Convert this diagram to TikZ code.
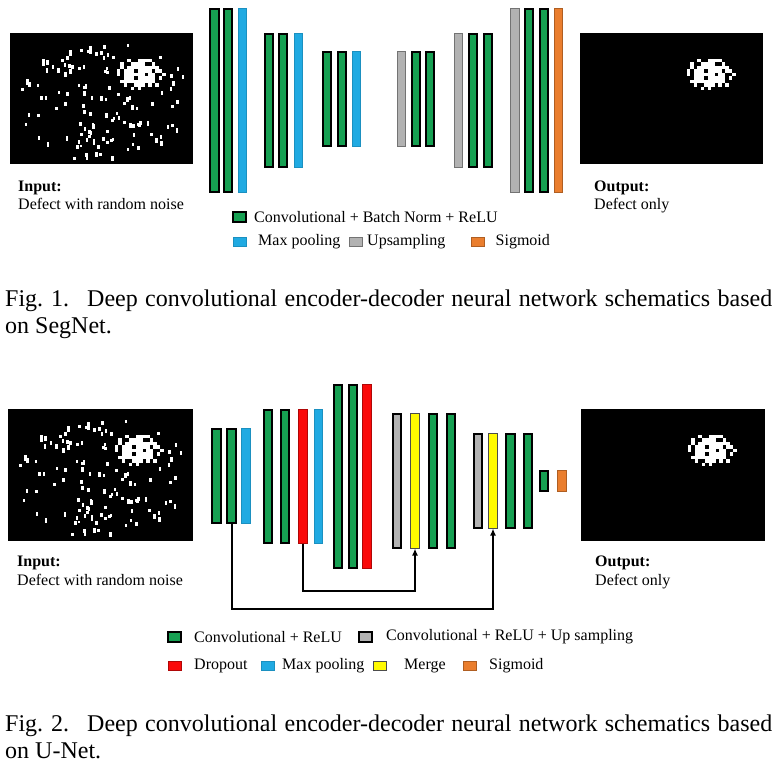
\documentclass[tikz,border=0pt]{standalone}
\usepackage{fontspec}
\setmainfont{Liberation Serif}
\usetikzlibrary{arrows.meta,positioning}

\definecolor{convgreen}{RGB}{22,160,82}
\definecolor{poolblue}{RGB}{32,170,226}
\definecolor{upgray}{RGB}{178,178,178}
\definecolor{sigorange}{RGB}{234,126,46}
\definecolor{dropred}{RGB}{250,10,10}
\definecolor{mergeyellow}{RGB}{255,250,0}

% random white specks of the noisy input
\newcommand{\noisedots}{%
  \pgfmathsetseed{2024}%
  \foreach \k in {1,...,165}{%
    \pgfmathsetmacro{\nx}{8+172*rnd}%
    \pgfmathsetmacro{\ny}{6+118*rnd}%
    \pgfmathsetmacro{\nh}{2.8+2.6*rnd}%
    \pgfmathtruncatemacro{\inside}{(((\nx-94)/88)^2+((\ny-68)/60)^2<1)*(((\nx-129)/30)^2+((\ny-41)/22)^2>1)}%
    \ifnum\inside=1 \fill[white] (\nx,\ny) rectangle ++(2.7,\nh);\fi
  }%
}
% the defect itself
\newcommand{\defectblob}{%
  \pgfmathsetseed{77}%
  \foreach \bx in {0,...,14}{%
    \foreach \by in {0,...,10}{%
      \pgfmathsetmacro{\cx}{103+3.5*\bx}%
      \pgfmathsetmacro{\cy}{22+3.5*\by}%
      \pgfmathsetmacro{\ra}{rnd}%
      \pgfmathsetmacro{\rb}{rnd}%
      \pgfmathtruncatemacro{\keep}{(((\cx+1.75-129)/25)^2+((\cy+1.75-41)/17)^2<0.4+0.65*\ra)*(\rb>0.13)}%
      \ifnum\keep=1 \fill[white] (\cx,\cy) rectangle ++(3.6,3.6);\fi
    }}%
}

\tikzset{
  layer/.style={inner sep=0pt,outer sep=0pt,minimum width=8.5pt},
  conv/.style={layer,fill=convgreen,draw=black,line width=2.1pt},
  pool/.style={layer,fill=poolblue,draw=poolblue!85!black,line width=0.6pt},
  up/.style={layer,fill=upgray,draw=black!55,line width=0.8pt},
  upb/.style={layer,fill=upgray,draw=black,line width=1.8pt},
  sig/.style={layer,fill=sigorange,draw=sigorange!75!black,line width=0.6pt},
  drop/.style={layer,fill=dropred,draw=dropred!70!black,line width=0.6pt},
  merge/.style={layer,fill=mergeyellow,draw=black!70,line width=0.9pt},
  img/.style={fill=black,inner sep=0pt,outer sep=0pt},
  lbl/.style={inner sep=0pt,font=\fontsize{16}{19}\selectfont},
  capt/.style={inner sep=0pt,font=\fontsize{24}{28}\selectfont},
  skip/.style={line width=2pt,-{Latex[length=7pt,width=6pt]}},
}

\begin{document}
\begin{tikzpicture}[x=1pt,y=-1pt]
    \useasboundingbox[fill=white] (0,0) rectangle (781,772);

    %% Fig. 1: SegNet
    \node[img,minimum width=183pt,minimum height=131pt] (inA) at (101.5,98.5) {};
    \node[img,minimum width=183pt,minimum height=131pt] (outA) at (671.5,98.5) {};
    \begin{scope}[shift={(inA.north west)}]
        \noisedots
        \defectblob
    \end{scope}
    \begin{scope}[shift={(outA.north west)}]
        \defectblob
    \end{scope}

    \foreach \nm/\st/\x/\y/\h in {
        s1/conv/214.5/100.5/183, s2/conv/228/100.5/183, s3/pool/242.5/100.5/184,
        s4/conv/269/100.5/133, s5/conv/283/100.5/133, s6/pool/298.5/100.5/134,
        s7/conv/327/99/94, s8/conv/342/99/94, s9/pool/356.5/99/95,
        s10/up/401.5/99/95, s11/conv/416/99/94, s12/conv/430/99/94,
        s13/up/458.5/100.5/134, s14/conv/473/100.5/133, s15/conv/488/100.5/133,
        s16/up/515/100.5/184, s17/conv/529/100.5/183, s18/conv/544/100.5/183,
        s19/sig/558.5/100.5/184}{
        \node[\st,minimum height=\h pt] (\nm) at (\x,\y) {};
    }

    \node[lbl,anchor=base west] (inAhead) at (18,191) {\textbf{Input:}};
    \node[lbl,anchor=base west] (inAtext) at (18,209) {Defect with random noise};
    \node[lbl,anchor=base west] (outAhead) at (594,191) {\textbf{Output:}};
    \node[lbl,anchor=base west] (outAtext) at (594,209) {Defect only};

    \foreach \nm/\st/\x/\y/\gap/\txt in {
        ka/conv/239.5/217/8/Convolutional + Batch Norm + ReLU,
        kb/pool/239.5/242/12/Max pooling,
        kc/up/355.5/242/5/Upsampling,
        kd/sig/478/242/11/Sigmoid}{
        \node[\st,minimum width=13pt,minimum height=9.5pt] (\nm) at (\x,\y) {};
        \node[lbl,right=\gap pt of \nm] (\nm txt) {\txt};
    }

    \node[capt,anchor=base west] (capAa) at (5,306)
        {\makebox[767pt][s]{\mbox{Fig. 1.}\hspace{0.75em}Deep convolutional encoder-decoder neural network schematics based}};
    \node[capt,anchor=base west] (capAb) at (5,333) {on SegNet.};

    %% Fig. 2: U-Net
    \node[img,minimum width=185pt,minimum height=132pt] (inB) at (100.5,475) {};
    \node[img,minimum width=184pt,minimum height=132pt] (outB) at (673,475) {};
    \begin{scope}[shift={(inB.north west)}]
        \noisedots
        \defectblob
    \end{scope}
    \begin{scope}[shift={(outB.north west)}]
        \defectblob
    \end{scope}

    \foreach \nm/\st/\x/\y/\h in {
        u1/conv/216.5/476/94, u2/conv/231.5/476/94, u3/pool/246/476/95,
        u4/conv/268/476.5/133, u5/conv/285/476.5/133, u6/drop/303/476.5/134, u7/pool/318.5/476.5/134,
        u8/conv/338/476.5/183, u9/conv/353/476.5/183, u10/drop/367/476.5/184,
        u11/upb/397/481/134, u12/merge/415/481/135, u13/conv/433/481/134, u14/conv/451/481/134,
        u15/upb/478/481/94, u16/merge/493/481/95, u17/conv/510.5/481/94, u18/conv/528/481/94,
        u19/conv/544/481/20, u20/sig/562/481/21}{
        \node[\st,minimum height=\h pt] (\nm) at (\x,\y) {};
    }

    % skip connections
    \draw[skip] (u6.south) -- (u6.south |- 0,591) -| (u12.south);
    \draw[skip] (u2.south) -- (u2.south |- 0,609) -| (u16.south);

    \node[lbl,anchor=base west] (inBhead) at (17,566) {\textbf{Input:}};
    \node[lbl,anchor=base west] (inBtext) at (17,585) {Defect with random noise};
    \node[lbl,anchor=base west] (outBhead) at (595,566) {\textbf{Output:}};
    \node[lbl,anchor=base west] (outBtext) at (595,585) {Defect only};

    \foreach \nm/\st/\x/\y/\gap/\txt in {
        ma/conv/174.5/637/13/Convolutional + ReLU,
        mb/upb/365.5/637/14/Convolutional + ReLU + Up sampling,
        mc/drop/174.5/666/13/Dropout,
        md/pool/267.5/666/8/Max pooling,
        me/merge/379.5/666/18/Merge,
        mf/sig/469.5/666/13/Sigmoid}{
        \node[\st,minimum width=13pt,minimum height=9.5pt] (\nm) at (\x,\y) {};
        \node[lbl,right=\gap pt of \nm] (\nm txt) {\txt};
    }

    \node[capt,anchor=base west] (capBa) at (5,731)
        {\makebox[767pt][s]{\mbox{Fig. 2.}\hspace{0.75em}Deep convolutional encoder-decoder neural network schematics based}};
    \node[capt,anchor=base west] (capBb) at (5,758) {on U-Net.};
\end{tikzpicture}
\end{document}
